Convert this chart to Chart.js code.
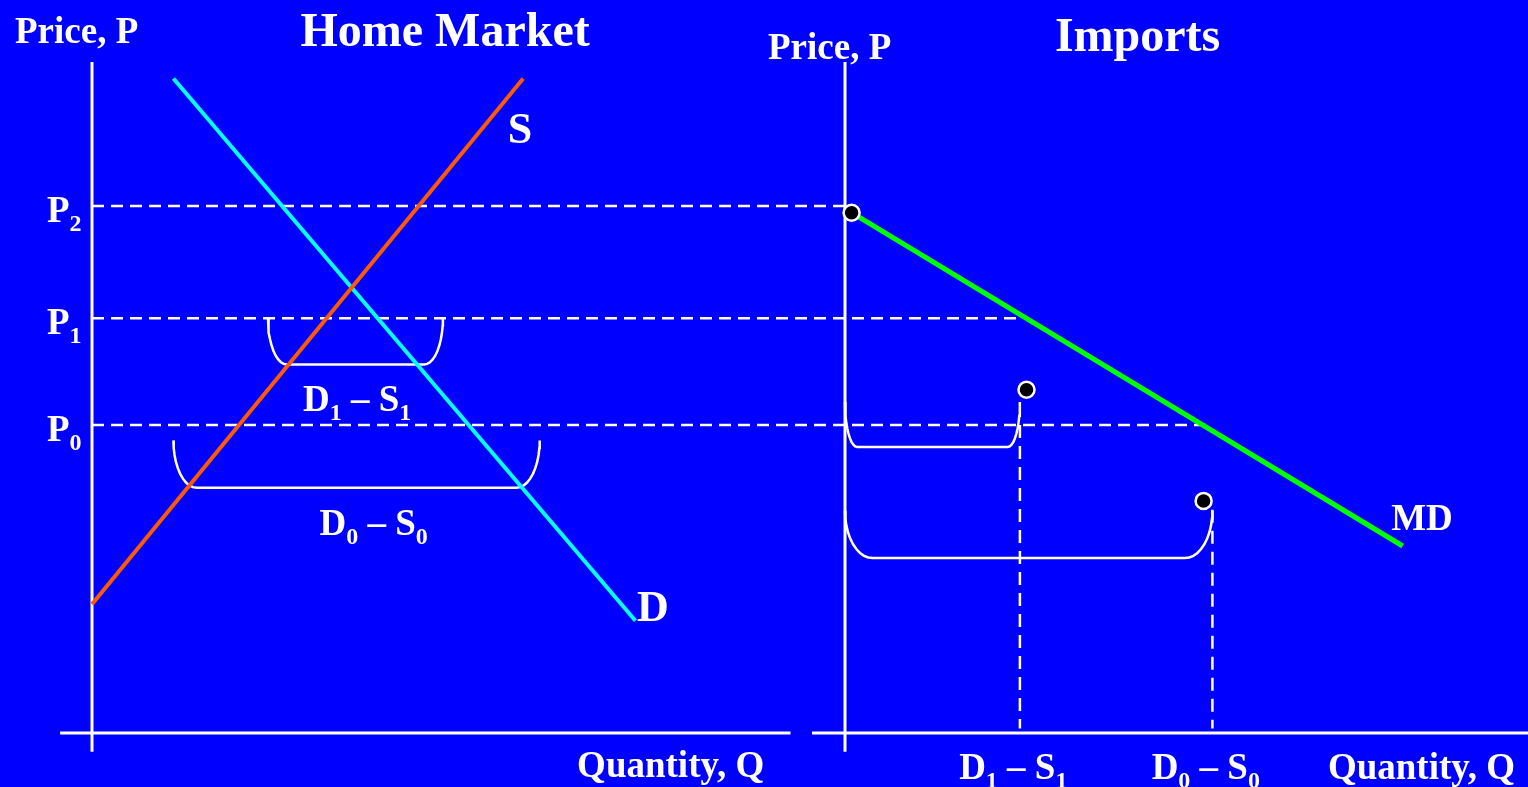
<!DOCTYPE html>
<html>
<head>
<meta charset="utf-8">
<script src="https://cdn.jsdelivr.net/npm/chart.js@4.4.1/dist/chart.umd.min.js"></script>
<style>
  html,body{margin:0;padding:0;background:#0000ff;overflow:hidden}
  #c{display:block}
</style>
</head>
<body>
<canvas id="c" width="1528" height="787"></canvas>
<script>
// ---- data (quantity / price units) ----
const priceNames  = ['P_0', 'P_1', 'P_2'];
const priceLevels = [2.80, 3.77, 4.79];
const priceLineEndQ = [3.34, 1.59, 0.06];   // where each price line meets the imports panel

const supplyQ = [0, 3.92],    supplyP = [1.17, 5.95];
const demandQ = [0.74, 4.94], demandP = [5.95, 1.02];
const mdQ = [0.06, 5.07],     mdP = [4.73, 1.70];

// import quantities D1-S1, D0-S0
const importNames = ['D_1 – S_1', 'D_0 – S_0'];
const importQ = [1.59, 3.34];
const importDropTopP = [2.80, 2.03];

const dotQ = [0.06, 1.65, 3.26];
const dotP = [4.73, 3.12, 2.11];

// brackets: [q0, q1, pTop, pBottom, corner]
const homeBrackets   = [[1.60, 3.19, 3.77, 3.35, 0.17], [0.74, 4.07, 2.66, 2.23, 0.21]];
const importBrackets = [[0, 1.59, 3.01, 2.60, 0.11], [0, 3.34, 2.02, 1.59, 0.25]];

// axis extents
const homeAxisQ = [-0.29, 6.35], importAxisQ = [-0.30, 6.21], axisP = [-0.17, 6.10];

// ---- layout ----
const K = 110;                       // px per unit
const GAP = (845 - 92) / K;          // distance between the two price axes
const xhMin = -92 / K, xhMax = (1528 - 92) / K;
const yMin = -54 / K, yMax = 733 / K;

const WHITE = '#ffffff';
const pts = (qs, ps) => qs.map((q, i) => ({x: q, y: ps[i]}));

function bracketPts(b){
  const [q0, q1, pt, pb, r] = b, out = [];
  const n = 10;
  for(let i=0;i<=n;i++){ const t = i/n*Math.PI/2; out.push({x: q0 + r*(1-Math.cos(t)), y: pt - (pt-pb)*Math.sin(t)}); }
  for(let i=n;i>=0;i--){ const t = i/n*Math.PI/2; out.push({x: q1 - r*(1-Math.cos(t)), y: pt - (pt-pb)*Math.sin(t)}); }
  return out;
}

const line = (data, axis, color, width, dash) => ({
  data, xAxisID: axis, showLine: true, borderColor: color, borderWidth: width,
  borderDash: dash || [], pointRadius: 0, fill: false, clip: false, tension: 0
});

const datasets = [
  { data: pts(dotQ, dotP), xAxisID: 'xi', showLine: false, pointRadius: 8,
    backgroundColor: '#000', borderColor: WHITE, borderWidth: 2.5, clip: false },
  line(pts(mdQ, mdP), 'xi', '#00ff00', 5),
  line(pts(supplyQ, supplyP), 'xh', '#ff5a00', 4),
  line(pts(demandQ, demandP), 'xh', '#00ffff', 4),
  line([{x: homeAxisQ[0], y: 0}, {x: homeAxisQ[1], y: 0}], 'xh', WHITE, 3),
  line([{x: 0, y: axisP[0]}, {x: 0, y: axisP[1]}], 'xh', WHITE, 3),
  line([{x: importAxisQ[0], y: 0}, {x: importAxisQ[1], y: 0}], 'xi', WHITE, 3),
  line([{x: 0, y: axisP[0]}, {x: 0, y: axisP[1]}], 'xi', WHITE, 3),
];
priceLevels.forEach((p, i) => datasets.push(line([{x: -GAP, y: p}, {x: priceLineEndQ[i], y: p}], 'xi', WHITE, 2.5, [12, 7])));
importQ.forEach((q, i) => datasets.push(line([{x: q, y: importDropTopP[i]}, {x: q, y: 0.04}], 'xi', WHITE, 2.5, [13, 8])));
homeBrackets.forEach(b => datasets.push(line(bracketPts(b), 'xh', WHITE, 2.5)));
importBrackets.forEach(b => datasets.push(line(bracketPts(b), 'xi', WHITE, 2.5)));

// text: [text, axis, q, p, size, align]
const notes = [
  ['Price, P',    'xh', -0.70, 6.27, 37, 'left'],
  ['Home Market', 'xh',  3.21, 6.25, 48, 'center'],
  ['S',           'xh',  3.89, 5.36, 44, 'center'],
  ['D',           'xh',  5.10, 1.02, 44, 'center'],
  ['D_1 – S_1',   'xh',  2.41, 2.93, 37, 'center'],
  ['D_0 – S_0',   'xh',  2.56, 1.80, 37, 'center'],
  ['Quantity, Q', 'xh',  4.41, -0.40, 37, 'left'],
  ['Price, P',    'xi', -0.70, 6.13, 37, 'left'],
  ['Imports',     'xi',  2.66, 6.20, 48, 'center'],
  ['MD',          'xi',  5.245, 1.845, 37, 'center'],
  ['Quantity, Q', 'xi',  4.39, -0.42, 37, 'left'],
];
importNames.forEach((t, i) => notes.push([t, 'xi', importQ[i] - 0.06, -0.42, 37, 'center']));

function parts(str){
  const out = []; let buf = '';
  for(let i=0;i<str.length;i++){
    if(str[i] === '_'){ if(buf){ out.push({t: buf, sub: false}); buf=''; } out.push({t: str[i+1], sub: true}); i++; }
    else buf += str[i];
  }
  if(buf) out.push({t: buf, sub: false});
  return out;
}
function drawRich(ctx, str, x, y, size, align){
  const ps = parts(str), sub = Math.round(size*0.66);
  const font = s => `bold ${s}px "Liberation Serif", "Times New Roman", serif`;
  let w = 0;
  ps.forEach(p => { ctx.font = font(p.sub ? sub : size); p.w = ctx.measureText(p.t).width; w += p.w; });
  let cx = align === 'center' ? x - w/2 : align === 'right' ? x - w : x;
  ps.forEach(p => {
    ctx.font = font(p.sub ? sub : size);
    ctx.fillText(p.t, cx, p.sub ? y + size*0.24 : y);
    cx += p.w;
  });
}

const textPlugin = {
  id: 'notes',
  afterDatasetsDraw(chart){
    const ctx = chart.ctx, y = chart.scales.y;
    ctx.save();
    ctx.fillStyle = WHITE;
    ctx.textBaseline = 'alphabetic';
    notes.forEach(([t, ax, q, p, s, al]) => drawRich(ctx, t, chart.scales[ax].getPixelForValue(q), y.getPixelForValue(p), s, al));
    priceLevels.forEach((p, i) => drawRich(ctx, priceNames[i], chart.scales.xh.getPixelForValue(-0.41), y.getPixelForValue(p) + 16, 37, 'left'));
    ctx.restore();
  }
};

new Chart(document.getElementById('c'), {
  type: 'scatter',
  data: { datasets },
  options: {
    responsive: false, animation: false, events: [],
    layout: { padding: 0, autoPadding: false },
    plugins: { legend: { display: false }, tooltip: { enabled: false } },
    scales: {
      xh: { type: 'linear', axis: 'x', display: false, min: xhMin, max: xhMax },
      xi: { type: 'linear', axis: 'x', display: false, min: xhMin - GAP, max: xhMax - GAP },
      y:  { type: 'linear', display: false, min: yMin, max: yMax }
    }
  },
  plugins: [textPlugin]
});
</script>
</body>
</html>
